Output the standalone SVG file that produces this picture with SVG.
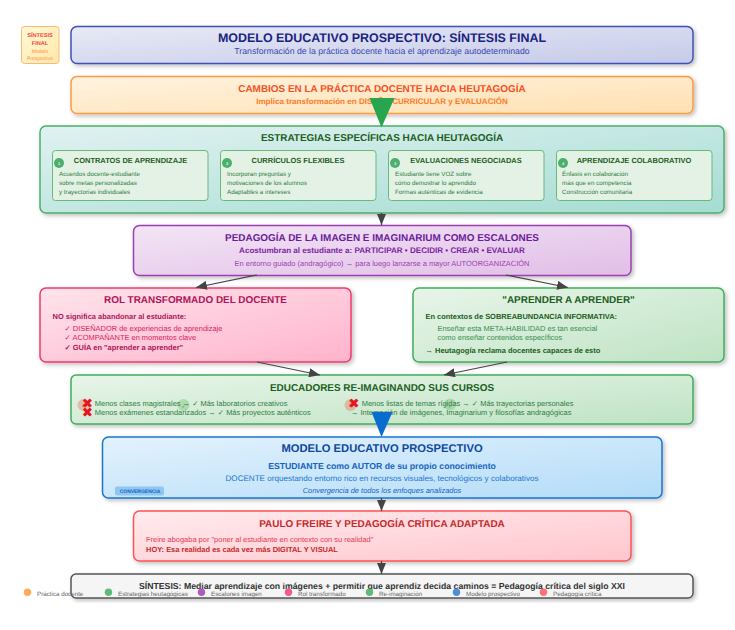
<svg xmlns="http://www.w3.org/2000/svg" width="735" height="630" viewBox="0 0 735 630">
<style>
text{font-family:"Liberation Sans",Arial,sans-serif;text-anchor:middle;text-rendering:geometricPrecision}
.l{text-anchor:start}
.b{font-weight:bold}
.box{stroke-width:1.5;filter:url(#sh)}
.card{fill:#e3f2e5;stroke:#66bb7a;stroke-width:1}
.ct{font-size:7.460px;font-weight:bold;fill:#1b5e20}
.cd{font-size:6.220px;fill:#2e7d42;text-anchor:start}
.nc{fill:#4caf6d}
.nt{font-size:4px;fill:#e3f2e5;font-weight:bold}
.leg{font-size:6.220px;fill:#666;text-anchor:start}
.conn{stroke:#444;stroke-width:1.250;fill:none}
.x{fill:#e8141c;font-family:"DejaVu Sans",sans-serif;font-size:13.500px}
.m{font-size:7.460px;fill:#2e7d42;text-anchor:start}
</style>
<defs>
<filter id="sh" x="-5%" y="-15%" width="110%" height="135%"><feDropShadow dx="2" dy="2" stdDeviation="2" flood-color="#000" flood-opacity="0.25"/></filter>
<linearGradient id="g1" x1="0" y1="0" x2="1" y2="1"><stop offset="0" stop-color="#e8eaf6"/><stop offset="1" stop-color="#c5cae9"/></linearGradient>
<linearGradient id="g2" x1="0" y1="0" x2="1" y2="1"><stop offset="0" stop-color="#fff3e0"/><stop offset="1" stop-color="#ffe0b2"/></linearGradient>
<linearGradient id="g3" x1="0" y1="0" x2="1" y2="1"><stop offset="0" stop-color="#e0f2f1"/><stop offset="1" stop-color="#a5dcd3"/></linearGradient>
<linearGradient id="g4" x1="0" y1="0" x2="1" y2="1"><stop offset="0" stop-color="#f3e5f5"/><stop offset="1" stop-color="#e1bee7"/></linearGradient>
<linearGradient id="g5" x1="0" y1="0" x2="1" y2="1"><stop offset="0" stop-color="#ffe4ec"/><stop offset="1" stop-color="#ffb3cc"/></linearGradient>
<linearGradient id="g6" x1="0" y1="0" x2="1" y2="1"><stop offset="0" stop-color="#e8f5e9"/><stop offset="1" stop-color="#bfe3c4"/></linearGradient>
<linearGradient id="g8" x1="0" y1="0" x2="1" y2="1"><stop offset="0" stop-color="#e3f2fd"/><stop offset="1" stop-color="#b3dcf8"/></linearGradient>
<linearGradient id="g9" x1="0" y1="0" x2="1" y2="1"><stop offset="0" stop-color="#ffebee"/><stop offset="1" stop-color="#ffc6cd"/></linearGradient>
<linearGradient id="g11" x1="0" y1="0" x2="1" y2="1"><stop offset="0" stop-color="#fff8d8"/><stop offset="1" stop-color="#ffe9a8"/></linearGradient>
<marker id="ah" markerWidth="11" markerHeight="9" refX="11" refY="4.500" orient="auto" markerUnits="userSpaceOnUse"><path d="M0 0L11 4.500L0 9Z" fill="#444"/></marker>
</defs>

<g id="sello"><rect x="21.500" y="26.500" width="37.500" height="37" rx="3" fill="url(#g11)" stroke="#ffb870" stroke-width="1"/>
<text x="40" y="37" font-size="5.600" class="b" fill="#f44336">SÍNTESIS</text><text x="40" y="45" font-size="5.600" class="b" fill="#f44336">FINAL</text><text x="40" y="53" font-size="4.980" fill="#ff8a3c">Modelo</text><text x="40" y="60" font-size="4.980" fill="#ff8a3c">Prospectivo</text></g>

<g id="titulo"><rect class="box" x="71" y="26.500" width="622" height="37" rx="6" fill="url(#g1)" stroke="#3f51b5"/>
<text x="382" y="42" font-size="12.440" class="b" fill="#1a237e">MODELO EDUCATIVO PROSPECTIVO: SÍNTESIS FINAL</text>
<text x="382" y="54" font-size="8.710" fill="#3949ab">Transformación de la práctica docente hacia el aprendizaje autodeterminado</text></g>

<g id="cambios"><rect class="box" x="71" y="76.500" width="622" height="37" rx="6" fill="url(#g2)" stroke="#ff9a3c"/>
<text x="382" y="92" font-size="9.950" class="b" fill="#f4511e">CAMBIOS EN LA PRÁCTICA DOCENTE HACIA HEUTAGOGÍA</text>
<text x="382" y="104" font-size="8.090" class="b" fill="#ff7a1f">Implica transformación en DISEÑO CURRICULAR y EVALUACIÓN</text></g>

<g id="estrategias"><rect class="box" x="40" y="126" width="684" height="87" rx="6" fill="url(#g3)" stroke="#4caf6d"/>
<text x="382" y="141" font-size="9.950" class="b" fill="#1b5e20">ESTRATEGIAS ESPECÍFICAS HACIA HEUTAGOGÍA</text></g>

<g id="card1"><rect class="card" x="52.500" y="150.500" width="155.500" height="50" rx="3"/><circle class="nc" cx="59" cy="163" r="5"/><text class="nt" x="59" y="165">1</text>
<text class="ct" x="130.500" y="163">CONTRATOS DE APRENDIZAJE</text><text class="cd" x="59" y="176">Acuerdos docente-estudiante</text><text class="cd" x="59" y="185">sobre metas personalizadas</text><text class="cd" x="59" y="194">y trayectorias individuales</text></g>
<g id="card2"><rect class="card" x="220.500" y="150.500" width="155.500" height="50" rx="3"/><circle class="nc" cx="227" cy="163" r="5"/><text class="nt" x="227" y="165">2</text>
<text class="ct" x="298" y="163">CURRÍCULOS FLEXIBLES</text><text class="cd" x="227" y="176">Incorporan preguntas y</text><text class="cd" x="227" y="185">motivaciones de los alumnos</text><text class="cd" x="227" y="194">Adaptables a intereses</text></g>
<g id="card3"><rect class="card" x="388.500" y="150.500" width="155.500" height="50" rx="3"/><circle class="nc" cx="395" cy="163" r="5"/><text class="nt" x="395" y="165">3</text>
<text class="ct" x="466" y="163">EVALUACIONES NEGOCIADAS</text><text class="cd" x="395" y="176">Estudiante tiene VOZ sobre</text><text class="cd" x="395" y="185">cómo demostrar lo aprendido</text><text class="cd" x="395" y="194">Formas auténticas de evidencia</text></g>
<g id="card4"><rect class="card" x="556.500" y="150.500" width="155.500" height="50" rx="3"/><circle class="nc" cx="563" cy="163" r="5"/><text class="nt" x="563" y="165">4</text>
<text class="ct" x="634" y="163">APRENDIZAJE COLABORATIVO</text><text class="cd" x="562" y="176">Énfasis en colaboración</text><text class="cd" x="562" y="185">más que en competencia</text><text class="cd" x="562" y="194">Construcción comunitaria</text></g>

<g id="pedagogia"><rect class="box" x="133.500" y="225.500" width="497.500" height="50" rx="6" fill="url(#g4)" stroke="#9c3fb0"/>
<text x="382" y="241" font-size="9.950" class="b" fill="#6a1b9a">PEDAGOGÍA DE LA IMAGEN E IMAGINARIUM COMO ESCALONES</text>
<text x="382" y="253" font-size="8.090" class="b" fill="#7b1fa2">Acostumbran al estudiante a: PARTICIPAR • DECIDIR • CREAR • EVALUAR</text>
<text x="382" y="266" font-size="7.460" fill="#9c3fb0">En entorno guiado (andragógico) → para luego lanzarse a mayor AUTOORGANIZACIÓN</text></g>

<g id="rol"><rect class="box" x="40" y="288" width="311" height="74" rx="6" fill="url(#g5)" stroke="#f5386a"/>
<text x="195.500" y="303" font-size="9.950" class="b" fill="#ad1457">ROL TRANSFORMADO DEL DOCENTE</text>
<text class="l b" x="52.500" y="319" font-size="7.460" fill="#ad1457">NO significa abandonar al estudiante:</text>
<text class="l" x="64.500" y="331" font-size="7.460" fill="#d81b60">✓ DISEÑADOR de experiencias de aprendizaje</text>
<text class="l" x="64.500" y="340" font-size="7.460" fill="#d81b60">✓ ACOMPAÑANTE en momentos clave</text>
<text class="l b" x="64.500" y="350" font-size="7.460" fill="#ad1457">✓ GUÍA en "aprender a aprender"</text></g>

<g id="aprender"><rect class="box" x="413" y="288" width="311" height="74" rx="6" fill="url(#g6)" stroke="#3fae5a"/>
<text x="568.500" y="303" font-size="9.950" class="b" fill="#1b5e20">"APRENDER A APRENDER"</text>
<text class="l b" x="425.500" y="319" font-size="7.460" fill="#1b5e20">En contextos de SOBREABUNDANCIA INFORMATIVA:</text>
<text class="l" x="437.500" y="331" font-size="7.460" fill="#388e4f">Enseñar esta META-HABILIDAD es tan esencial</text>
<text class="l" x="437.500" y="340" font-size="7.460" fill="#388e4f">como enseñar contenidos específicos</text>
<text class="l b" x="425.500" y="353" font-size="7.460" fill="#1b5e20">→ Heutagogía reclama docentes capaces de esto</text></g>

<g id="educadores"><rect class="box" x="71" y="375" width="622" height="49" rx="5" fill="url(#g6)" stroke="#3fae5a"/>
<text x="382" y="391" font-size="9.950" class="b" fill="#1b5e20">EDUCADORES RE-IMAGINANDO SUS CURSOS</text>
<circle cx="83.500" cy="405" r="6" fill="#f44336" fill-opacity="0.3"/><text x="83.500" y="407" font-size="4" fill="#d32f2f">✗</text>
<circle cx="183.500" cy="405" r="6" fill="#4caf50" fill-opacity="0.3"/><text x="183.500" y="408" font-size="4" fill="#2e7d32">✓</text>
<circle cx="350.500" cy="405" r="6" fill="#f44336" fill-opacity="0.3"/><text x="350.500" y="407" font-size="4" fill="#d32f2f">✗</text>
<circle cx="450" cy="404.500" r="6" fill="#4caf50" fill-opacity="0.3"/><text x="450" y="407.500" font-size="4" fill="#2e7d32">✓</text>
<text class="x" x="87.500" y="408">✖</text>
<text class="x" x="87.500" y="416.500">✖</text>
<text class="x" x="354" y="408">✖</text>
<text class="m" x="94.800" y="406">Menos clases magistrales → ✓ Más laboratorios creativos</text>
<text class="m" x="94.800" y="415">Menos exámenes estandarizados → ✓ Más proyectos auténticos</text>
<text class="m" x="361.700" y="406">Menos listas de temas rígidas → ✓ Más trayectorias personales</text>
<text class="m" x="351" y="415">→ Integración de imágenes, Imaginarium y filosofías andragógicas</text></g>

<g id="modelo"><rect class="box" x="102.500" y="437" width="559.500" height="61" rx="6" fill="url(#g8)" stroke="#1976d2"/>
<text x="382" y="452" font-size="11.200" class="b" fill="#0d47a1">MODELO EDUCATIVO PROSPECTIVO</text>
<text x="382" y="468.500" font-size="8.710" class="b" fill="#1565c0">ESTUDIANTE como AUTOR de su propio conocimiento</text>
<text x="382" y="480.500" font-size="8.090" fill="#1976d2">DOCENTE orquestando entorno rico en recursos visuales, tecnológicos y colaborativos</text>
<text x="382" y="493" font-size="7.460" font-style="italic" fill="#1565c0">Convergencia de todos los enfoques analizados</text>
<rect x="115" y="486.500" width="49" height="9" rx="2" fill="#90c6f2"/><text x="140" y="493" font-size="4.980" class="b" fill="#1565c0">CONVERGENCIA</text></g>

<g id="freire"><rect class="box" x="133.500" y="511" width="497.500" height="50" rx="6" fill="url(#g9)" stroke="#ff5252"/>
<text x="382" y="527" font-size="9.950" class="b" fill="#c62828">PAULO FREIRE Y PEDAGOGÍA CRÍTICA ADAPTADA</text>
<text class="l" x="146" y="542" font-size="7.460" fill="#e53950">Freire abogaba por "poner al estudiante en contexto con su realidad"</text>
<text class="l b" x="146" y="552" font-size="7.460" fill="#c62828">HOY: Esa realidad es cada vez más DIGITAL Y VISUAL</text></g>

<g id="sintesis"><rect class="box" x="71" y="574" width="622" height="24" rx="5" fill="#f5f5f5" stroke="#555"/>
<text x="382" y="589" font-size="8.710" class="b" fill="#333">SÍNTESIS: Mediar aprendizaje con imágenes + permitir que aprendiz decida caminos = Pedagogía crítica del siglo XXI</text></g>

<g id="conectores">
<path class="conn" d="M381.500 213V225" marker-end="url(#ah)"/>
<path class="conn" d="M257 275L196 287.500" marker-end="url(#ah)"/>
<path class="conn" d="M506 275L568 287.500" marker-end="url(#ah)"/>
<path class="conn" d="M257 362L320 375" marker-end="url(#ah)"/>
<path class="conn" d="M507 362L444 375" marker-end="url(#ah)"/>
<path class="conn" d="M381.500 498V511" marker-end="url(#ah)"/>
<path class="conn" d="M381.500 561V574" marker-end="url(#ah)"/>
<path d="M369.500 98H394.500L381.500 127.500Z" fill="#28a54f"/>
<path d="M371.500 412H392.500L381.500 437Z" fill="#0a6ccf"/>
</g>

<g id="leyenda">
<circle cx="27.500" cy="592.300" r="3.700" fill="#ffa95c"/><text class="leg" x="37" y="596">Práctica docente</text>
<circle cx="108.500" cy="592.300" r="3.700" fill="#5fba7a"/><text class="leg" x="118" y="596">Estrategias heutagógicas</text>
<circle cx="201.500" cy="592.300" r="3.700" fill="#ab5cbf"/><text class="leg" x="211" y="596">Escalones imagen</text>
<circle cx="288.500" cy="592.300" r="3.700" fill="#f25c8c"/><text class="leg" x="298" y="596">Rol transformado</text>
<circle cx="369.500" cy="592.300" r="3.700" fill="#5fba7a"/><text class="leg" x="379" y="596">Re-imaginación</text>
<circle cx="456.500" cy="592.300" r="3.700" fill="#4a90d9"/><text class="leg" x="466" y="596">Modelo prospectivo</text>
<circle cx="543.500" cy="592.300" r="3.700" fill="#ff7075"/><text class="leg" x="553" y="596">Pedagogía crítica</text>
</g>
</svg>
